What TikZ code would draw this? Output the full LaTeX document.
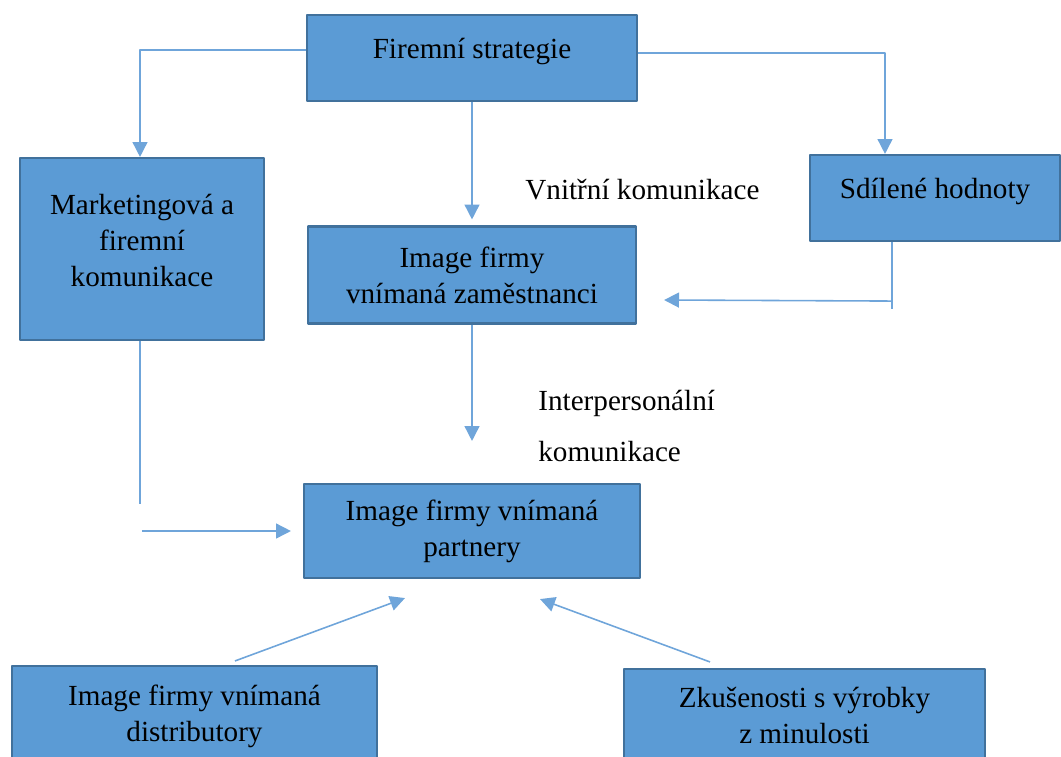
\documentclass[tikz,border=0pt]{standalone}
\usepackage{fontspec}
\setmainfont{Liberation Serif}
\usetikzlibrary{arrows.meta}
\definecolor{boxfill}{HTML}{5B9BD5}
\definecolor{boxedge}{HTML}{41719C}
\definecolor{linkcol}{HTML}{6FA5DA}
\begin{document}
\begin{tikzpicture}[line join=round,
	box/.style={draw=boxedge,line width=1.2pt,fill=boxfill,align=center,inner sep=2pt,
		font=\fontsize{16.6pt}{20.5pt}\selectfont},
	lift/.style={text depth=#1},
	plain/.style={linkcol,line width=0.9pt},
	link/.style={plain,-{Triangle[length=8.5pt,width=8.5pt]}},
	caption/.style={inner sep=0pt,align=left,font=\fontsize{16.6pt}{28.5pt}\selectfont}]
	% --- Khung hinh ---
	\def\xmax{21.22} \def\ymin{-15.12}
	\useasboundingbox (0,0) rectangle (\xmax,\ymin);
	\clip (0,0) rectangle (\xmax,\ymin);
	% --- Bloky ---
	\node[box,lift=11.5pt,minimum width=6.6cm,minimum height=1.72cm] (strat) at (9.44,-1.16) {Firemní strategie};
	\node[box,lift=10pt,minimum width=4.88cm,minimum height=3.64cm] (mark) at (2.84,-4.98) {Marketingová a\\firemní\\komunikace};
	\node[box,lift=11.5pt,minimum width=5cm,minimum height=1.72cm] (sdil) at (18.7,-3.96) {Sdílené hodnoty};
	\node[box,minimum width=6.56cm,minimum height=1.94cm] (zam) at (9.44,-5.5) {Image firmy\\vnímaná zaměstnanci};
	\node[box,minimum width=6.72cm,minimum height=1.88cm] (part) at (9.44,-10.62) {Image firmy vnímaná\\partnery};
	\node[box,lift=0pt,minimum width=7.3cm,minimum height=1.88cm] (dist) at (3.89,-14.26) {Image firmy vnímaná\\distributory};
	\node[box,minimum width=7.22cm,minimum height=1.84cm] (zkus) at (16.09,-14.3) {Zkušenosti s výrobky\\z minulosti};
	% --- Popisky ---
	\node[caption,anchor=west] (vnitr) at (10.5,-3.8) {Vnitřní komunikace};
	\node[caption,anchor=west] (inter) at (10.76,-8.52) {Interpersonální\\komunikace};
	% --- Spojnice ---
	\draw[link] ([yshift=0.16cm]strat.west) -| ([xshift=-0.04cm]mark.north);
	\draw[link] ([yshift=0.1cm]strat.east) -| ([xshift=-1cm]sdil.north);
	\draw[link] (strat.south) -- ([yshift=0.12cm]zam.north);
	\draw[plain] ([xshift=-0.86cm]sdil.south) -- ++(0,-1.34);
	\draw[link] ([shift={(-0.86,-1.18)}]sdil.south) -- ([shift={(0.54,-0.5)}]zam.east);
	\draw[link] (zam.south) -- ([yshift=0.84cm]part.north);
	\draw[plain] ([xshift=-0.04cm]mark.south) -- ++(0,-3.26);
	\draw[link] ([xshift=-3.22cm]part.west) -- ([xshift=-0.24cm]part.west);
	\draw[link] ([shift={(0.81,0.08)}]dist.north) -- ([shift={(-1.34,-0.38)}]part.south);
	\draw[link] ([shift={(-1.89,0.12)}]zkus.north) -- ([shift={(1.36,-0.4)}]part.south);
\end{tikzpicture}
\end{document}
